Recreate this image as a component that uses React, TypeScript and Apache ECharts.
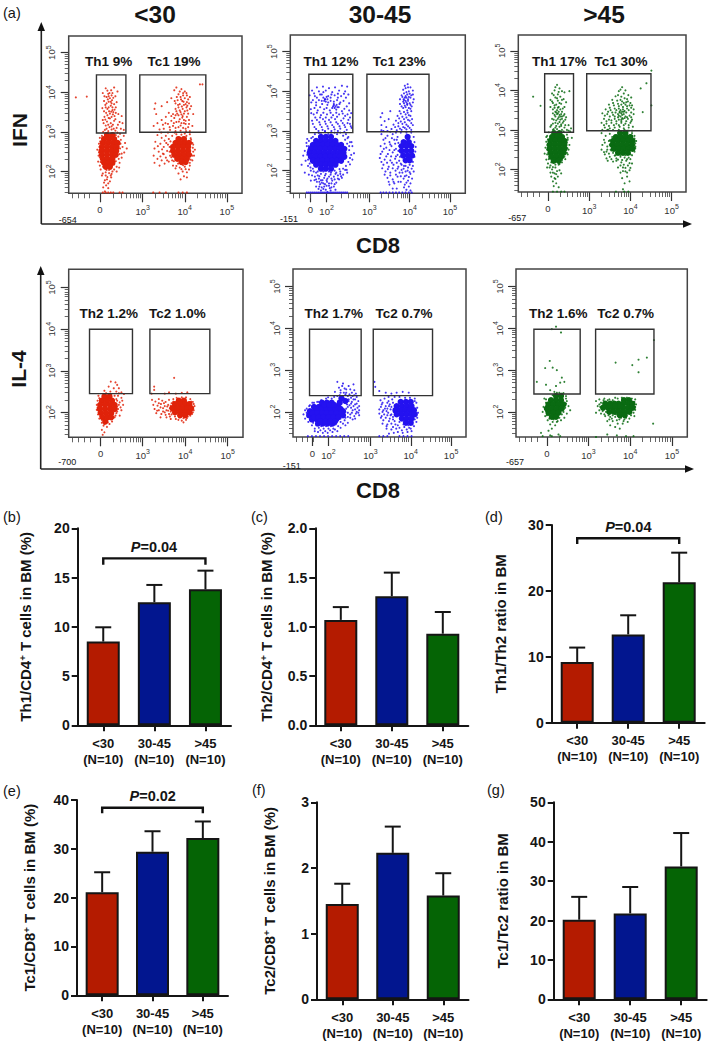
import React, { useEffect, useRef } from "react";
import * as echarts from "echarts";

const FONT = "Liberation Sans";
const INK = "#151515";
const RED = "#B41B00";
const BLUE = "#02168F";
const GREEN = "#056405";
const DOT_RED = "#E0230A";
const DOT_BLUE = "#2412F0";
const DOT_GREEN = "#0A6B12";

/* ---------- bar data ---------- */
const groupLabels = ["<30\n(N=10)", "30-45\n(N=10)", ">45\n(N=10)"];
const th1Cd4 = [8.5, 12.5, 13.8];
const th1Cd4Top = [9.95, 14.25, 15.7];
const th2Cd4 = [1.07, 1.31, 0.93];
const th2Cd4Top = [1.2, 1.55, 1.15];
const th1Th2 = [9.2, 13.4, 21.3];
const th1Th2Top = [11.4, 16.3, 25.8];
const tc1Cd8 = [21.1, 29.4, 32.2];
const tc1Cd8Top = [25.2, 33.6, 35.6];
const tc2Cd8 = [1.45, 2.23, 1.58];
const tc2Cd8Top = [1.76, 2.63, 1.92];
const tc1Tc2 = [20.2, 21.8, 33.7];
const tc1Tc2Top = [26, 28.5, 42.2];

/* ---------- flow data: x,y pairs, 100 units = one decade, 10^3 = 300 ---------- */
const ifnYoungCore = [
  215,292,228,292, 208,282,220,282,232,282, 205,272,217,272,229,272,240,272, 203,262,215,262,227,262,238,262,
  202,252,214,252,226,252,237,252, 203,242,215,242,227,242,236,242, 205,232,216,232,228,232, 208,222,219,222,228,222, 212,212,222,212,
  385,282,398,282, 378,272,390,272,402,272,410,272, 372,262,384,262,396,262,408,262, 372,252,384,252,396,252,408,252,
  375,242,387,242,399,242,410,242, 382,232,394,232,405,232, 392,224,402,224,
];
const ifnYoungDots = [
  212,410,225,405,232,412,205,398,218,396,228,398,240,402,214,388,222,385,235,390,208,378,219,376,227,380,238,375,211,368,224,366,232,370,204,360,216,358,228,355,236,362,213,348,222,346,230,350,242,345,209,338,219,335,226,338,235,332,250,340,215,326,224,322,232,328,245,325,212,316,221,312,229,318,238,310,252,322,210,305,218,302,226,306,235,303,248,308,255,305,205,330,228,362,220,352,214,372,226,392,
  192,255,195,240,196,270,194,225,198,215,200,205,205,195,212,190,220,196,228,200,215,180,208,172,222,175,213,165,206,160,218,158,210,150,225,185,232,205,238,212,245,222,250,235,256,248,252,262,258,272,248,280,255,290,246,295,262,258,250,245,
  205,147,212,147,218,147,224,147,230,147,245,147,252,147,141,387,167,389,
  380,412,392,408,400,402,375,405,396,398,385,395,405,392,390,388,400,385,412,388,383,380,394,378,405,375,378,372,388,370,398,368,410,372,385,362,395,358,404,362,415,365,380,352,390,350,400,352,408,346,372,345,385,342,395,340,405,338,362,348,375,335,388,332,398,330,410,330,355,338,368,328,380,325,392,322,402,320,345,330,360,320,372,315,385,312,396,310,408,312,350,308,365,305,378,302,390,303,403,302,330,372,328,358,332,345,335,322,326,315,345,365,358,375,368,385,420,345,418,315,436,420,442,420,
  335,292,345,285,355,290,362,282,330,275,342,270,350,262,360,268,328,258,338,250,348,245,358,252,326,240,335,232,345,228,355,235,365,240,328,222,340,215,352,220,362,225,372,215,415,280,420,268,424,255,422,240,418,228,412,215,400,212,388,210,378,208,395,200,405,198,385,195,398,188,390,180,405,185,410,205,370,228,
  325,147,340,147,355,147,385,147,395,147,405,147,
  216,404,221,398,209,390,230,386,217,382,224,376,212,362,219,362,233,356,208,352,225,351,216,342,233,340,207,322,218,318,226,314,241,318,214,308,231,308,240,298,206,300,222,334,229,344,211,331,236,348,226,372,219,390,
  198,285,203,290,236,292,242,288,247,270,246,258,245,244,243,232,236,226,232,218,224,208,214,204,206,212,200,224,198,236,196,248,197,262,199,276,212,198,220,204,203,190,216,186,224,190,210,178,218,170,226,194,238,200,244,210,
  388,402,396,392,404,398,381,388,391,382,408,382,376,378,384,368,393,364,402,370,412,358,378,358,388,354,398,346,406,354,368,340,378,342,392,344,402,328,386,326,374,322,364,312,378,310,390,316,402,308,412,302,354,322,348,318,340,306,397,376,406,366,382,346,394,336,410,320,398,322,
  370,290,380,294,392,293,404,290,414,284,418,272,419,260,420,250,418,240,414,230,406,222,396,216,384,220,374,226,368,236,364,250,364,262,366,276,356,272,350,244,342,238,358,228,346,256,336,264,352,278,344,298,360,298,376,298,400,296,412,294,380,214,392,206,402,206,412,222,
];
const ifnMidCore = [
  180,285,192,285,205,285, 168,275,180,275,192,275,204,275,216,275, 160,265,172,265,184,265,196,265,208,265,220,265,230,265,
  155,255,167,255,179,255,191,255,203,255,215,255,227,255,238,255, 152,245,164,245,176,245,188,245,200,245,212,245,224,245,236,245,
  155,235,167,235,179,235,191,235,203,235,215,235,227,235,238,235, 160,225,172,225,184,225,196,225,208,225,220,225,230,225,
  168,215,180,215,192,215,204,215,216,215, 180,205,192,205,205,205,
  395,285, 385,272,398,272, 380,262,392,262,404,262, 380,250,392,250,404,250, 384,238,396,238,406,238, 390,226,400,226,
];
const ifnMidDots = [
  175,295,190,298,205,296,220,292,235,288,248,285,160,285,150,275,240,278,252,272,258,262,145,262,140,250,136,238,142,225,148,212,155,200,245,268,250,252,255,240,258,228,248,222,242,212,235,205,228,198,218,195,205,195,192,192,180,192,168,195,160,205,
  165,185,175,180,188,182,200,185,212,185,222,188,170,172,182,170,195,172,208,175,218,170,176,160,188,160,200,162,212,160,180,150,192,152,204,150,168,160,225,178,235,190,245,195,132,215,140,195,150,190,155,175,
  172,188,184,176,196,180,206,168,214,178,178,166,190,166,202,156,186,154,196,146,174,154,164,176,158,188,230,186,240,202,
  145,145,150,145,155,145,160,145,165,145,170,145,175,145,180,145,185,145,190,145,195,145,200,145,205,145,210,145,215,145,220,145,225,145,230,145,235,145,240,145,245,145,
  170,410,185,412,200,408,215,410,232,414,245,412,158,402,175,400,192,402,208,398,225,402,240,400,152,390,165,388,182,392,198,388,214,390,230,388,248,392,160,378,175,378,190,380,204,376,220,378,236,376,168,365,183,368,196,366,212,365,226,368,244,362,155,355,172,352,188,355,202,352,218,354,232,350,162,342,180,340,195,342,210,340,225,342,240,338,255,345,170,328,185,330,200,328,215,330,230,326,248,328,160,318,178,316,192,318,208,315,222,318,238,315,252,318,168,305,184,303,198,306,214,304,228,306,244,303,256,308,
  186,384,190,380,194,386,188,376,192,374,196,380,212,368,216,362,219,366,210,362,214,358,221,360,
  395,418,402,410,390,408,398,400,408,402,386,395,394,392,404,390,388,384,396,380,402,384,410,380,384,374,392,372,400,370,408,372,380,362,390,360,398,358,405,362,375,350,386,348,395,346,404,350,370,338,382,336,392,334,402,338,366,326,378,324,388,322,400,326,360,316,372,312,384,310,396,312,408,315,355,305,368,302,380,303,392,304,404,303,332,345,328,335,338,325,330,315,342,310,348,330,352,350,330,302,345,300,
  385,380,390,376,392,384,386,370,394,368,382,386,388,364,396,376,
  330,292,345,288,358,292,370,285,335,278,350,272,362,278,372,270,328,262,342,258,355,262,366,255,332,248,346,242,358,246,370,240,326,232,338,228,352,226,364,230,374,225,335,215,348,210,360,215,372,210,340,198,352,195,365,200,375,195,345,182,358,178,370,185,350,165,362,168,372,172,358,155,368,155,
  410,285,412,272,415,260,414,248,412,235,408,222,400,215,390,212,380,215,385,205,395,200,405,205,382,195,392,188,402,192,385,180,396,175,388,165,398,160,392,152,402,150,
  328,145,335,145,342,145,350,145,358,145,366,145,374,145,382,145,390,145,398,145,405,145,
  163,395,178,392,206,392,222,394,237,394,170,384,186,398,204,384,222,384,242,384,156,372,168,372,182,376,198,372,212,374,228,372,250,370,164,358,178,360,194,358,208,358,224,360,238,356,250,352,156,345,170,346,186,346,204,346,218,346,234,344,246,342,166,334,178,334,192,334,206,334,220,336,236,332,252,334,158,326,176,322,190,324,204,322,218,322,234,320,246,320,164,310,182,310,196,312,212,310,226,312,240,310,254,312,174,300,190,300,206,300,222,300,238,298,
  165,292,180,292,198,292,214,296,228,296,242,292,146,280,156,282,246,282,144,270,150,262,256,272,148,252,146,240,250,262,252,232,262,244,148,228,152,218,252,216,154,208,162,198,244,202,172,198,186,198,200,198,214,200,226,204,
  176,186,190,188,204,190,216,192,228,192,168,178,180,176,194,176,206,180,222,180,232,182,186,168,200,168,214,166,176,172,194,162,206,158,182,158,216,152,
  388,414,396,410,384,404,392,398,400,394,380,390,390,388,398,386,408,392,376,380,386,378,394,366,402,366,376,368,384,358,394,352,402,356,378,344,390,342,398,340,374,332,386,330,396,328,406,330,372,320,382,318,392,316,404,320,364,310,376,306,388,308,400,308,
  335,300,352,298,366,296,378,296,392,296,404,296,340,282,356,282,368,278,338,268,352,266,364,268,374,262,336,255,350,252,362,252,372,250,328,242,342,236,354,236,366,236,376,235,330,222,344,220,356,220,368,220,378,218,332,206,346,204,358,206,370,205,380,202,338,190,352,188,366,190,378,186,348,172,360,172,378,172,
  386,212,396,208,408,212,390,198,400,196,410,198,388,186,398,184,406,180,392,170,402,168,386,158,
];
const ifnOldCore = [
  215,292,228,292, 210,282,222,282,234,282, 206,272,218,272,230,272,240,272, 204,262,216,262,228,262,240,262, 204,252,216,252,228,252,240,252,
  206,242,218,242,230,242,238,242, 208,232,220,232,232,232, 214,222,226,222,
  375,292,388,292, 365,282,377,282,389,282,400,282, 358,272,370,272,382,272,394,272,405,272, 356,262,368,262,380,262,392,262,404,262,
  360,252,372,252,384,252,396,252,405,252, 370,242,382,242,394,242,
];
const ifnOldDots = [
  222,414,228,405,216,400,234,398,210,392,224,390,240,395,252,398,218,382,230,384,206,376,224,374,238,378,212,368,220,364,232,366,244,370,206,358,216,356,226,358,236,354,222,350,230,352,226,346,218,346,234,346,222,340,228,338,212,342,240,340,218,334,226,332,234,334,244,332,210,328,220,324,230,326,238,322,212,316,224,316,232,314,206,308,218,306,228,308,240,306,250,312,212,300,222,302,234,300,246,300,256,304,
  164,384,182,361,
  198,285,196,270,194,255,192,240,196,225,200,215,204,205,210,200,218,205,226,212,234,218,242,226,248,238,250,250,252,262,248,275,246,288,254,296,258,280,212,192,220,188,228,198,208,182,216,178,224,182,212,170,220,165,214,158,226,155,232,190,198,205,
  212,144,222,144,232,144,240,144,
  380,408,372,398,388,400,395,388,364,385,378,384,386,380,392,378,402,382,356,376,368,374,380,372,390,370,400,368,348,364,360,362,372,360,382,358,392,360,404,362,340,352,352,350,366,350,376,350,386,348,396,350,408,352,332,342,344,340,358,338,370,340,378,342,384,340,376,334,388,334,398,336,408,340,336,328,348,326,362,328,372,326,382,328,394,328,404,326,330,318,342,316,354,318,366,316,378,318,388,316,400,318,338,306,350,304,362,306,374,308,384,304,396,306,406,308,332,300,346,300,372,300,386,300,
  374,346,380,338,384,346,372,336,386,330,378,326,
  451,450,439,418,425,405,430,345,451,362,
  330,292,340,285,350,290,336,275,348,272,332,262,344,258,356,262,330,250,342,245,354,248,338,238,350,232,362,235,345,222,358,220,370,225,
  410,285,414,272,412,258,410,245,404,236,396,230,386,230,376,232,366,222,378,218,390,222,400,226,370,205,382,205,394,210,404,215,376,192,388,195,398,198,380,178,392,182,386,165,398,170,382,150,365,144,385,144,395,144,
  218,408,226,396,214,388,222,380,234,376,210,372,228,368,216,362,224,356,240,358,212,352,220,344,224,342,232,340,216,338,230,334,238,336,214,326,224,328,234,328,242,326,218,318,228,320,236,318,208,312,220,310,232,310,242,312,214,302,226,296,238,296,250,298,
  202,294,196,282,248,280,246,268,247,254,246,242,240,232,234,224,228,214,218,212,208,218,202,226,198,238,198,250,199,262,200,276,206,210,212,206,222,196,216,190,206,192,218,176,
  376,402,384,392,370,388,376,376,384,368,394,372,358,368,370,366,378,364,388,364,398,362,350,356,362,354,372,354,382,352,392,354,402,356,346,346,356,344,364,344,374,344,380,346,390,344,402,344,338,336,350,334,362,334,370,332,380,330,392,332,402,332,342,322,354,324,366,322,378,322,390,322,402,322,336,312,348,310,360,312,372,312,384,312,396,312,344,300,358,300,378,296,392,298,404,298,
  372,298,384,298,396,298,404,292,410,278,412,266,412,254,356,282,350,274,350,262,352,250,358,242,364,236,376,236,388,236,400,238,338,268,344,250,336,244,348,240,342,228,354,226,366,228,380,224,392,226,
  384,212,398,216,376,210,388,204,400,204,382,196,392,192,
];
const il4YoungCore = [
  210,238,222,238, 204,228,216,228,228,228, 200,218,212,218,224,218,234,218, 199,208,211,208,223,208,234,208, 202,198,214,198,226,198, 206,188,218,188,226,188, 212,178,
  385,228,397,228, 376,220,388,220,400,220,410,220, 370,210,382,210,394,210,406,210,414,210, 376,200,388,200,400,200,410,200, 388,193,400,193,
];
const il4YoungDots = [
  225,274,236,272,240,266,220,262,232,258,244,258,210,252,224,250,238,250,250,248,256,244,196,240,242,240,250,235,194,228,240,228,252,228,192,218,244,218,254,218,192,206,242,208,250,205,195,195,238,198,246,192,198,185,234,188,204,175,222,172,228,178,208,168,216,165,204,158,210,152,206,146,
  327,254,321,245,374,283,327,262,352,245,362,248,378,245,392,247,405,248,
  322,230,330,226,338,232,346,228,354,225,362,230,325,218,335,216,343,220,352,215,360,218,368,222,328,208,338,205,348,210,356,205,364,210,332,198,344,196,352,200,362,196,342,188,356,188,364,190,
  372,232,380,235,392,236,402,236,412,232,418,225,422,215,420,205,416,196,406,190,396,186,386,188,376,190,368,195,392,180,402,182,384,182,396,176,
  214,246,226,244,234,240,244,246,198,234,238,232,246,224,194,212,240,214,248,212,196,200,240,202,200,190,236,192,204,182,228,184,210,172,218,176,
  338,222,350,222,358,214,342,212,334,204,366,202,348,202,372,226,366,216,360,204,354,194,366,184,378,184,404,186,412,192,418,200,420,220,414,226,
];
const il4MidCore = [
  180,222,192,222,204,222, 160,212,172,212,184,212,196,212,208,212,220,212, 150,202,162,202,174,202,186,202,198,202,210,202,222,202,232,202,
  148,192,160,192,172,192,184,192,196,192,208,192,220,192,232,192, 155,182,167,182,179,182,191,182,203,182,215,182, 170,172,182,172,194,172,206,172,
  228,232,238,226,224,222, 166,207,178,207,190,207,202,207,214,207,226,207,156,197,168,197,180,197,192,197,204,197,216,197,228,197,160,187,172,187,184,187,196,187,208,187,220,187,176,177,188,177,200,177,212,177,186,217,198,217,210,217,
  375,224,388,224,400,224, 365,214,378,214,390,214,402,214, 362,204,374,204,386,204,398,204,408,204, 365,194,377,194,389,194,401,194,410,194, 378,184,390,184,402,184, 388,174,400,174,
];
const il4MidDots = [
  218,272,232,268,246,262,258,266,222,258,236,256,250,254,260,252,212,248,226,246,240,246,254,246,264,244,218,238,232,238,244,238,256,238,266,236,190,232,204,232,246,230,258,230,270,226,178,228,168,224,156,222,148,214,242,218,252,220,262,218,272,214,138,204,240,208,252,210,262,206,272,204,134,194,244,198,254,198,264,196,272,192,138,184,146,176,226,184,238,186,250,186,262,184,155,168,162,160,172,162,184,160,196,160,208,160,220,166,232,172,244,174,170,152,182,150,194,150,206,152,218,154,
  145,142,155,142,165,142,175,142,185,142,195,142,205,142,215,142,225,142,235,142,245,142,
  310,272,312,260,322,250,338,246,352,244,365,246,380,248,395,246,
  325,228,335,232,345,226,354,230,328,218,338,214,348,218,356,222,322,206,332,204,342,208,350,206,322,196,334,194,344,198,352,194,326,186,338,186,348,184,356,182,330,172,342,170,352,172,362,170,
  340,160,352,158,364,160,372,162,384,164,396,162,408,166,414,176,416,186,418,198,416,210,414,222,410,232,346,148,358,150,380,150,392,152,402,154,368,152,
  322,142,332,142,342,142,372,142,382,142,392,142,402,142,
  230,262,240,254,226,252,234,246,248,242,260,240,224,240,238,242,252,234,262,230,236,232,246,226,254,224,266,220,240,224,248,216,258,214,268,210,244,212,256,204,266,200,238,200,250,194,260,190,270,198,234,194,244,188,256,182,
  172,224,160,222,150,216,142,208,142,198,144,188,150,180,158,174,166,168,178,166,190,166,202,166,214,170,226,176,236,180,162,154,176,156,188,154,200,156,212,158,226,162,238,168,
  195,235,210,236,205,226,220,226,
  345,236,360,236,372,236,386,234,398,234,410,226,330,222,342,222,352,212,326,212,336,208,346,214,358,200,330,200,340,202,350,192,328,190,342,192,356,188,332,180,346,178,360,178,372,176,382,170,394,168,404,170,410,182,340,166,356,164,368,168,378,156,390,158,400,160,
];
const il4OldCore = [
  222,238,234,238, 210,228,222,228,234,228, 204,218,216,218,228,218,240,218, 200,208,212,208,224,208,236,208, 204,198,216,198,228,198, 212,188,222,188,
  385,228,397,228, 340,220,352,220,372,220,384,220,396,220,405,220, 335,210,347,210,359,210,371,210,383,210,395,210,406,210, 350,200,362,200,374,200,386,200,398,200, 375,192,387,192,
  362,220,352,214,364,214,376,214,
];
const il4OldDots = [
  222,404,212,398,234,390,207,322,196,305,214,306,224,300,236,282,232,270,242,272,176,272,198,265,222,262,208,252,218,248,230,246,240,245,246,238,194,232,198,222,192,212,248,226,252,214,256,204,190,200,196,190,202,180,248,196,242,186,234,180,226,178,214,176,208,170,220,168,212,160,204,155,186,150,208,144,190,142,212,142,228,146,232,142,
  457,372,440,330,420,325,365,318,405,312,420,295,455,172,
  318,226,326,230,336,228,346,228,358,228,370,232,322,214,326,204,318,198,330,196,340,190,352,188,364,188,374,182,386,182,398,184,410,190,412,205,414,218,412,230,345,178,358,178,370,172,382,172,394,176,352,168,364,164,375,160,318,140,345,146,368,144,390,142,408,142,
  224,246,236,244,214,240,246,232,198,230,246,220,244,210,198,214,240,200,198,202,200,192,236,194,206,184,230,186,216,182,224,176,
  330,222,338,232,350,230,364,234,380,234,392,234,404,232,410,224,328,212,326,218,334,202,342,200,338,194,348,192,358,192,366,194,378,186,390,186,402,192,408,198,412,212,356,184,368,180,350,182,384,178,
];

/* ---------- gates, in the same units: [x0, y0, x1, y1] ---------- */
const ifnYoungGates = [[190, 297, 260, 444], [293, 299, 450, 444]];
const ifnMidGates = [[150, 296, 259, 443], [294, 298, 448, 443]];
const ifnOldGates = [[192, 294, 262, 442], [294, 298, 450, 442]];
const il4YoungGates = [[175, 245, 276, 400], [317, 245, 458, 400]];
const il4MidGates = [[149, 239, 277, 398], [307, 239, 454, 398]];
const il4OldGates = [[169, 243, 280, 398], [317, 243, 457, 398]];

const decadeTicks = [200, 300, 400, 500];
const minorSteps = [30, 48, 60, 70, 78, 85, 90, 95];

const pairs = (flat: number[]) => {
  const out: number[][] = [];
  for (let i = 0; i + 1 < flat.length; i += 2) out.push([flat[i], flat[i + 1]]);
  return out;
};
const minorFrom = (starts: number[]) => starts.flatMap((s) => minorSteps.map((m) => s + m));

type Flow = {
  core: number[]; dots: number[]; gates: number[][]; color: string;
  rect: number[]; xr: number[]; yr: number[]; xt: number[]; zero: number; neg: string; negAt: number[];
  labels: { t: string; x: number; y: number }[];
};
const flows: Flow[] = [
  { core: ifnYoungCore, dots: ifnYoungDots, gates: ifnYoungGates, color: DOT_RED, rect: [68.7, 36, 173.3, 157.3], xr: [124, 536], yr: [145, 542], xt: [198, 300, 400, 500], zero: 198, neg: "-654", negAt: [67.7, 220],
    labels: [{ t: "Th1 9%", x: 108.7, y: 61 }, { t: "Tc1 19%", x: 174, y: 61 }] },
  { core: ifnMidCore, dots: ifnMidDots, gates: ifnMidGates, color: DOT_BLUE, rect: [290.3, 35, 175, 158.3], xr: [104, 538], yr: [143, 542], xt: [154, 194, 300, 400, 500], zero: 154, neg: "-151", negAt: [289, 219.3],
    labels: [{ t: "Th1 12%", x: 331, y: 61 }, { t: "Tc1 23%", x: 399.3, y: 61 }] },
  { core: ifnOldCore, dots: ifnOldDots, gates: ifnOldGates, color: DOT_GREEN, rect: [518.3, 35, 167.7, 157], xr: [128, 535], yr: [143, 540], xt: [200, 300, 400, 500], zero: 200, neg: "-657", negAt: [517.3, 217.7],
    labels: [{ t: "Th1 17%", x: 559.3, y: 61 }, { t: "Tc1 30%", x: 621, y: 61 }] },
  { core: il4YoungCore, dots: il4YoungDots, gates: il4YoungGates, color: DOT_RED, rect: [68.7, 269.3, 174.3, 168], xr: [126, 536], yr: [140, 544], xt: [201, 300, 400, 500], zero: 201, neg: "-700", negAt: [67.3, 462.3],
    labels: [{ t: "Th2 1.2%", x: 108.7, y: 313.3 }, { t: "Tc2 1.0%", x: 177.3, y: 313.3 }] },
  { core: il4MidCore, dots: il4MidDots, gates: il4MidGates, color: DOT_BLUE, rect: [293, 269, 173, 168], xr: [108, 537], yr: [140, 542], xt: [156, 196, 300, 400, 500], zero: 156, neg: "-151", negAt: [291.7, 465.7],
    labels: [{ t: "Th2 1.7%", x: 333.7, y: 313.3 }, { t: "Tc2 0.7%", x: 404, y: 313.3 }] },
  { core: il4OldCore, dots: il4OldDots, gates: il4OldGates, color: DOT_GREEN, rect: [516, 269, 171.3, 168], xr: [126, 537], yr: [140, 542], xt: [200, 300, 400, 500], zero: 200, neg: "-657", negAt: [515, 462.3],
    labels: [{ t: "Th2 1.6%", x: 558.3, y: 313.3 }, { t: "Tc2 0.7%", x: 625.7, y: 313.3 }] },
];

type BarPanel = {
  name: string; vals: number[]; tops: number[]; max: number; step: number; dec: number;
  rect: number[]; gap: number; bracket?: number[]; p?: string; pAt?: number[];
};
const sup = (a: string, b: string) => `{a|${a}}{s|+}{a|${b}}`;
const barPanels: BarPanel[] = [
  { name: sup("Th1/CD4", " T cells in BM (%)"), vals: th1Cd4, tops: th1Cd4Top, max: 20, step: 5, dec: 0, rect: [77.7, 528.3, 153.3, 197], gap: 44, bracket: [0, 2, 16.95, 16.3], p: "=0.04", pAt: [154, 547] },
  { name: sup("Th2/CD4", " T cells in BM (%)"), vals: th2Cd4, tops: th2Cd4Top, max: 2, step: 0.5, dec: 1, rect: [315.3, 528.3, 153, 197], gap: 41 },
  { name: "{a|Th1/Th2 ratio in BM}", vals: th1Th2, tops: th1Th2Top, max: 30, step: 10, dec: 0, rect: [551.7, 525, 153, 197.7], gap: 44, bracket: [0, 2, 28, 27.1], p: "=0.04", pAt: [628.3, 526.7] },
  { name: sup("Tc1/CD8", " T cells in BM (%)"), vals: tc1Cd8, tops: tc1Cd8Top, max: 40, step: 10, dec: 0, rect: [77, 800, 151, 195.3], gap: 40, bracket: [0, 2, 38.4, 37.3], p: "=0.02", pAt: [152.7, 796] },
  { name: sup("Tc2/CD8", " T cells in BM (%)"), vals: tc2Cd8, tops: tc2Cd8Top, max: 3, step: 1, dec: 0, rect: [317, 802.3, 151.5, 197], gap: 40 },
  { name: "{a|Tc1/Tc2 ratio in BM}", vals: tc1Tc2, tops: tc1Tc2Top, max: 50, step: 10, dec: 0, rect: [553.7, 802.3, 153, 197], gap: 44 },
];

const groupColors = [RED, BLUE, GREEN];

const txt = (text: string, x: number, y: number, fontSize: number, bold = true, rotation = 0, align = "center") => ({
  type: "text", x, y, rotation, silent: true, z: 20,
  style: { text, fontSize, fontWeight: bold ? "bold" : "normal", fontFamily: FONT, fill: INK, align, verticalAlign: "middle" },
});
const line = (x1: number, y1: number, x2: number, y2: number) => ({
  type: "line", silent: true, z: 20, shape: { x1, y1, x2, y2 }, style: { stroke: "#222", lineWidth: 1.6 },
});
const tip = (points: number[][]) => ({ type: "polygon", silent: true, z: 20, shape: { points }, style: { fill: "#111" } });

function buildOption() {
  const grid: any[] = [], xAxis: any[] = [], yAxis: any[] = [], series: any[] = [];
  const pow = (v: number) => `{b|10}{s|${Math.round(v / 100)}}`;
  const tickRich = { b: { fontSize: 9.5, fontFamily: FONT, color: "#333" }, s: { fontSize: 7, fontFamily: FONT, color: "#333", padding: [0, 0, 7, 0] } };

  flows.forEach((f) => {
    const [left, top, width, height] = f.rect;
    const gi = grid.length;
    grid.push({ left, top, width, height, show: true, borderColor: "#444", borderWidth: 1.5, backgroundColor: "#fff", z: 1 });
    grid.push({ left, top, width, height, show: false });
    const base = { splitLine: { show: false }, axisLine: { show: false } };
    xAxis.push({
      ...base, type: "value", gridIndex: gi, min: f.xr[0], max: f.xr[1], position: "bottom",
      axisTick: { length: 9, customValues: f.xt, lineStyle: { color: "#333", width: 1.2 } },
      axisLabel: {
        customValues: f.xt, margin: 11, hideOverlap: false, showMinLabel: true, showMaxLabel: true,
        formatter: (v: number) => (v === f.zero ? "{b|0}" : pow(v === 194 || v === 196 ? 200 : v)), rich: tickRich,
      },
    });
    yAxis.push({
      ...base, type: "value", gridIndex: gi, min: f.yr[0], max: f.yr[1], position: "left",
      axisTick: { length: 8, customValues: decadeTicks, lineStyle: { color: "#333", width: 1.2 } },
      axisLabel: { customValues: decadeTicks, rotate: 90, margin: 10, formatter: (v: number) => pow(v), rich: tickRich },
    });
    xAxis.push({
      ...base, type: "value", gridIndex: gi + 1, min: f.xr[0], max: f.xr[1], position: "bottom",
      axisTick: { length: 5, customValues: minorFrom([200, 300, 400]).concat([f.xr[0] + 8, f.xr[0] + 22, f.xr[0] + 36, f.xr[0] + 50]), lineStyle: { color: "#555", width: 0.9 } },
      axisLabel: { show: false },
    });
    yAxis.push({
      ...base, type: "value", gridIndex: gi + 1, min: f.yr[0], max: f.yr[1], position: "left",
      axisTick: { length: 4, customValues: minorFrom([100, 200, 300, 400]).filter((v) => v > f.yr[0]), lineStyle: { color: "#555", width: 0.9 } },
      axisLabel: { show: false },
    });
    series.push({
      type: "scatter", xAxisIndex: gi, yAxisIndex: gi, data: pairs(f.core), symbolSize: 6.2, silent: true, z: 3,
      itemStyle: { color: f.color, opacity: 1 },
    });
    series.push({
      type: "scatter", xAxisIndex: gi, yAxisIndex: gi, data: pairs(f.dots), symbolSize: 2.1, silent: true, z: 4,
      itemStyle: { color: f.color, opacity: 0.85 },
    });
    series.push({
      type: "custom", xAxisIndex: gi, yAxisIndex: gi, data: f.gates, silent: true, z: 5,
      renderItem: (_: any, api: any) => {
        const a = api.coord([api.value(0), api.value(1)]);
        const b = api.coord([api.value(2), api.value(3)]);
        return {
          type: "rect", shape: { x: a[0], y: b[1], width: b[0] - a[0], height: a[1] - b[1] },
          style: { fill: "none", stroke: "#333", lineWidth: 1.4 },
        };
      },
    });
  });

  barPanels.forEach((p) => {
    const [left, top, width, height] = p.rect;
    const gi = grid.length;
    grid.push({ left, top, width, height });
    xAxis.push({
      type: "category", gridIndex: gi, data: groupLabels,
      axisLine: { show: true, lineStyle: { color: INK, width: 2 } },
      axisTick: { show: true, alignWithLabel: true, length: 6, lineStyle: { color: INK, width: 2 } },
      axisLabel: { color: INK, fontFamily: FONT, fontWeight: "bold", fontSize: 13, lineHeight: 16, margin: 10, interval: 0 },
    });
    yAxis.push({
      type: "value", gridIndex: gi, min: 0, max: p.max, interval: p.step,
      name: p.name, nameLocation: "middle", nameRotate: 90, nameGap: p.gap,
      nameTextStyle: {
        rich: {
          a: { fontFamily: FONT, fontWeight: "bold", fontSize: 15, color: INK },
          s: { fontFamily: FONT, fontWeight: "bold", fontSize: 9.5, color: INK, padding: [0, 0, 6, 0] },
        },
      },
      splitLine: { show: false },
      axisLine: { show: true, lineStyle: { color: INK, width: 2 } },
      axisTick: { show: true, length: 6, lineStyle: { color: INK, width: 2 } },
      axisLabel: { color: INK, fontFamily: FONT, fontWeight: "bold", fontSize: 14, margin: 8, formatter: (v: number) => v.toFixed(p.dec) },
    });
    series.push({
      type: "bar", xAxisIndex: gi, yAxisIndex: gi, barWidth: 33, silent: true, z: 3,
      data: p.vals.map((value, i) => ({ value, itemStyle: { color: groupColors[i] } })),
      itemStyle: { borderColor: INK, borderWidth: 2 },
    });
    series.push({
      type: "custom", xAxisIndex: gi, yAxisIndex: gi, silent: true, z: 2, clip: false,
      data: p.vals.map((v, i) => [i, v, p.tops[i]]),
      encode: { x: 0, y: 2 },
      renderItem: (_: any, api: any) => {
        const a = api.coord([api.value(0), api.value(1)]);
        const b = api.coord([api.value(0), api.value(2)]);
        const st = { stroke: INK, lineWidth: 2, fill: "none" };
        return {
          type: "group",
          children: [
            { type: "line", shape: { x1: a[0], y1: a[1], x2: b[0], y2: b[1] }, style: st },
            { type: "line", shape: { x1: b[0] - 8, y1: b[1], x2: b[0] + 8, y2: b[1] }, style: st },
          ],
        };
      },
    });
    if (p.bracket) {
      series.push({
        type: "custom", xAxisIndex: gi, yAxisIndex: gi, silent: true, z: 6, clip: false,
        data: [p.bracket],
        encode: { x: 0, y: 2 },
        renderItem: (_: any, api: any) => {
          const l = api.coord([api.value(0), api.value(2)]);
          const r = api.coord([api.value(1), api.value(2)]);
          const d = api.coord([api.value(0), api.value(3)]);
          return {
            type: "polyline",
            shape: { points: [[l[0], d[1]], l, r, [r[0], d[1]]] },
            style: { stroke: "#111", lineWidth: 2.4, fill: "none" },
          };
        },
      });
    }
  });

  const elements: any[] = [
    txt("(a)", 3, 13, 14.5, false, 0, "left"),
    txt("(b)", 3, 517, 14.5, false, 0, "left"),
    txt("(c)", 251, 517, 14.5, false, 0, "left"),
    txt("(d)", 485, 517, 14.5, false, 0, "left"),
    txt("(e)", 3, 791, 14.5, false, 0, "left"),
    txt("(f)", 252, 790, 14.5, false, 0, "left"),
    txt("(g)", 487, 790, 14.5, false, 0, "left"),
    txt("<30", 155, 14, 24.5),
    txt("30-45", 380, 14, 24.5),
    txt(">45", 604, 14, 24.5),
    txt("IFN", 19, 130, 21, true, Math.PI / 2),
    txt("IL-4", 18.5, 369, 21, true, Math.PI / 2),
    txt("CD8", 378, 245, 22),
    txt("CD8", 378, 490, 22),
    line(41.3, 224, 41.3, 28), tip([[41.3, 22], [37.5, 31], [45, 31]]),
    line(41.3, 224, 686, 224), tip([[692, 224], [683, 220.3], [683, 227.7]]),
    line(40.7, 469, 40.7, 272), tip([[40.7, 266], [37, 275], [44.5, 275]]),
    line(40.7, 469, 688, 469), tip([[694, 469], [685, 465.3], [685, 472.7]]),
  ];
  flows.forEach((f) => {
    elements.push(txt(f.neg, f.negAt[0], f.negAt[1], 9, false));
    f.labels.forEach((l) => elements.push(txt(l.t, l.x, l.y, 13.5)));
  });
  barPanels.forEach((p) => {
    if (p.p && p.pAt) {
      elements.push({
        type: "text", x: p.pAt[0], y: p.pAt[1], silent: true, z: 20,
        style: {
          text: `{i|P}{b|${p.p}}`, align: "center", verticalAlign: "middle",
          rich: {
            i: { fontFamily: FONT, fontSize: 14.5, fontWeight: "bold", fontStyle: "italic", fill: INK },
            b: { fontFamily: FONT, fontSize: 14.5, fontWeight: "bold", fill: INK },
          },
        },
      });
    }
  });

  return { animation: false, backgroundColor: "#fff", grid, xAxis, yAxis, series, graphic: { elements } };
}

export default function App() {
  const ref = useRef<HTMLDivElement>(null);
  useEffect(() => {
    const chart = echarts.init(ref.current!, undefined, { renderer: "svg" });
    chart.setOption(buildOption() as any);
    return () => chart.dispose();
  }, []);
  return <div ref={ref} style={{ position: "absolute", left: 0, top: 0, width: 709, height: 1043 }} />;
}
